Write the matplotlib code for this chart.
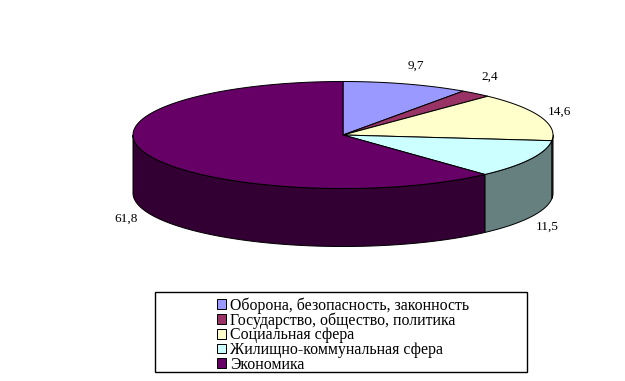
import numpy as np
import matplotlib
matplotlib.use("Agg")
import matplotlib.pyplot as plt
from matplotlib.patches import Polygon, Rectangle, Patch

categories = ["Оборона, безопасность, законность", "Государство, общество, политика",
              "Социальная сфера", "Жилищно-коммунальная сфера", "Экономика"]
values = [9.7, 2.4, 14.6, 11.5, 61.8]
value_labels = ["9,7", "2,4", "14,6", "11,5", "61,8"]
colors = ["#9999FF", "#993366", "#FFFFCC", "#CCFFFF", "#660066"]
side_colors = ["#4D4D80", "#4D1A33", "#808066", "#668080", "#330033"]
label_pos = [(416, 66), (490, 77), (559, 112), (547, 227), (126, 219)]

plt.rcParams['font.family'] = ['Liberation Serif', 'DejaVu Sans']
W, H = 625, 381
fig = plt.figure(figsize=(W / 100, H / 100), dpi=100)
ax = fig.add_axes([0, 0, 1, 1])
ax.set_xlim(0, W)
ax.set_ylim(H, 0)
ax.axis("off")

cx, cy, rx, ry, depth = 343, 135, 210, 53.5, 58
lw = 0.72


def pt(deg):
    t = np.radians(deg)
    return np.column_stack([cx + rx * np.sin(t), cy - ry * np.cos(t)])


edges = 3.6 * np.concatenate([[0], np.cumsum(values)])

for a, b, c in zip(edges[:-1], edges[1:], side_colors):
    lo, hi = max(a, 90), min(b, 270)
    if lo >= hi:
        continue
    arc = pt(np.linspace(lo, hi, 120))
    poly = np.vstack([arc, (arc + [0, depth])[::-1]])
    ax.add_patch(Polygon(poly, closed=True, facecolor=c, edgecolor="black", linewidth=lw, zorder=2))

for a, b, c in zip(edges[:-1], edges[1:], colors):
    arc = pt(np.linspace(a, b, max(int(b - a) * 2, 10)))
    poly = np.vstack([[cx, cy], arc])
    ax.add_patch(Polygon(poly, closed=True, facecolor=c, edgecolor="black", linewidth=lw, zorder=3))

for (x, y), s in zip(label_pos, value_labels):
    ax.text(x, y, s, fontsize=9.5, ha="center", va="center", color="black", zorder=5)

ax.add_patch(Rectangle((155, 292), 372, 80, facecolor="white", edgecolor="black", linewidth=1.0, zorder=4))
handles = [Patch(facecolor=c, edgecolor="black", linewidth=lw, label=l) for c, l in zip(colors, categories)]
leg = ax.legend(handles=handles, loc="upper left", bbox_to_anchor=(216.5, 297),
                bbox_transform=ax.transData, frameon=False, fontsize=11.4,
                borderpad=0, borderaxespad=0, labelspacing=-0.08,
                handlelength=0.57, handleheight=0.57, handletextpad=0.3)
leg.set_zorder(6)

fig.savefig("out.png", dpi=100, facecolor="white")
